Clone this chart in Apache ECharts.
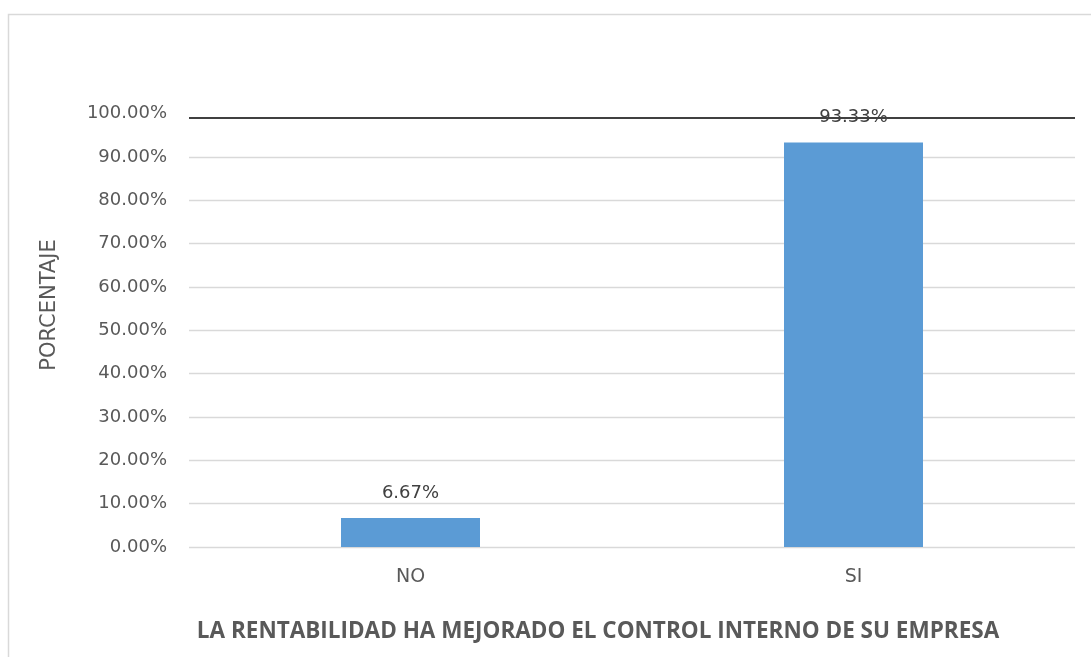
<!DOCTYPE html>
<html>
<head>
<meta charset="utf-8">
<script src="https://cdn.jsdelivr.net/npm/echarts@6/dist/echarts.min.js"></script>
<style>html,body{margin:0;padding:0;background:#fff}#c{width:1091px;height:657px}</style>
</head>
<body>
<div id="c"></div>
<script>
const categories = ['NO', 'SI'];
const values = [6.67, 93.33];
const yTicks = [0, 10, 20, 30, 40, 50, 60, 70, 80, 90, 100];
const xTitle = 'LA RENTABILIDAD HA MEJORADO EL CONTROL INTERNO DE SU EMPRESA';
const yTitle = 'PORCENTAJE';
const refLineValue = 99;

const FONT = '"DejaVu Sans", sans-serif';
const TFONT = '"Open Sans", sans-serif';
const chart = echarts.init(document.getElementById('c'), null, {renderer: 'canvas'});
const gridColors = yTicks.map((t, i) => i === yTicks.length - 1 ? 'rgba(0,0,0,0)' : '#d9d9d9');
chart.setOption({
  animation: false,
  backgroundColor: '#fff',
  grid: {left: 189, right: 16, top: 113.7, bottom: 110},
  xAxis: {
    type: 'category',
    data: categories,
    axisLine: {show: false},
    axisTick: {show: false},
    axisLabel: {color: '#595959', fontSize: 19, fontFamily: FONT, margin: 21}
  },
  yAxis: {
    type: 'value',
    min: 0, max: 100, interval: 10,
    axisLine: {show: false},
    axisTick: {show: false},
    splitLine: {show: true, lineStyle: {color: gridColors, width: 1.3}},
    axisLabel: {color: '#595959', fontSize: 18, fontFamily: FONT, margin: 22,
      formatter: v => v.toFixed(2) + '%'}
  },
  series: [{
    type: 'bar',
    data: values,
    barWidth: 139,
    itemStyle: {color: '#5b9bd5'},
    label: {show: true, position: 'top', distance: 16, color: '#404040', fontSize: 18, fontFamily: FONT,
      formatter: p => p.value.toFixed(2) + '%'},
    markLine: {
      silent: true, symbol: 'none',
      label: {show: false},
      lineStyle: {color: '#404040', width: 2, type: 'solid'},
      data: [{yAxis: refLineValue}],
      z: 10
    }
  }],
  graphic: [
    {type: 'rect', shape: {x: 8.5, y: 14.5, width: 1200, height: 800}, style: {fill: 'none', stroke: '#d9d9d9', lineWidth: 1.5}, silent: true, z: -1},
    {type: 'text', x: 50, y: 305, rotation: Math.PI / 2,
      style: {text: yTitle, fill: '#595959', font: '21px ' + FONT, textAlign: 'center', textVerticalAlign: 'middle'}},
    {type: 'text', x: 598, y: 632,
      style: {text: xTitle, fill: '#595959', font: 'bold 22.5px ' + TFONT, textAlign: 'center', textVerticalAlign: 'middle'}}
  ]
});
</script>
</body>
</html>
